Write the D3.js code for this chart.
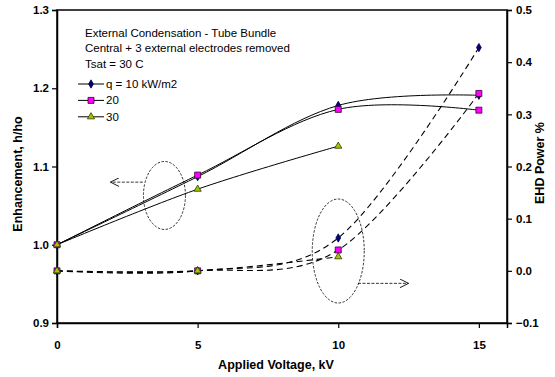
<!DOCTYPE html>
<html>
<head>
<meta charset="utf-8">
<script src="https://d3js.org/d3.v7.min.js"></script>
<style>
  body { margin: 0; background: #fff; }
  text { font-family: Arial, "Liberation Sans", sans-serif; }
</style>
</head>
<body>
<div id="chart"></div>
<script>
// applied voltage (kV)
var voltage = [0, 5, 10, 15];
// enhancement h/ho, left axis
var enh10 = [1.000, 1.087, 1.178, 1.191];
var enh20 = [1.000, 1.089, 1.173, 1.172];
var enh30 = [1.000, 1.071, 1.126];
// EHD power %, right axis
var ehd10 = [0.000, 0.000, 0.063, 0.428];
var ehd20 = [0.000, 0.000, 0.040, 0.340];
var ehd30 = [0.000, 0.000, 0.027];

var xTicks = [0, 5, 10, 15];
var leftTicks = [0.9, 1.0, 1.1, 1.2, 1.3];
var rightTicks = [-0.1, 0.0, 0.1, 0.2, 0.3, 0.4, 0.5];
var legendLabels = ["q = 10 kW/m2", "20", "30"];
var notes = ["External Condensation - Tube Bundle", "Central + 3 external electrodes removed", "Tsat = 30 C"];

var W = 555, H = 377;
var margin = {top: 10, right: 48, bottom: 54, left: 57};

var svg = d3.select("#chart").append("svg")
  .attr("width", W).attr("height", H);

var x = d3.scaleLinear().domain([0, 16]).range([margin.left, W - margin.right]);
var yL = d3.scaleLinear().domain([0.9, 1.3]).range([H - margin.bottom, margin.top]);
var yR = d3.scaleLinear().domain([-0.1, 0.5]).range([H - margin.bottom, margin.top]);

// frame
svg.append("rect")
  .attr("x", x(0)).attr("y", yL(1.3))
  .attr("width", x(16) - x(0)).attr("height", yL(0.9) - yL(1.3))
  .attr("fill", "none").attr("stroke", "#000").attr("stroke-width", 1.5);

function styleAxis(g) {
  g.select(".domain").attr("stroke-width", 1.5);
  g.selectAll(".tick line").attr("stroke-width", 1.2);
  g.selectAll("text").style("font-size", "11.5px").style("font-weight", "bold")
    .style("font-family", "Arial, 'Liberation Sans', sans-serif");
}

svg.append("g")
  .attr("transform", "translate(0," + yL(0.9) + ")")
  .call(d3.axisBottom(x).tickValues(xTicks).tickSize(5).tickPadding(13).tickFormat(d3.format("d")))
  .call(styleAxis);

svg.append("g")
  .attr("transform", "translate(" + x(0) + ",0)")
  .call(d3.axisLeft(yL).tickValues(leftTicks).tickSize(5).tickPadding(3).tickFormat(d3.format(".1f")))
  .call(styleAxis);

svg.append("g")
  .attr("transform", "translate(" + x(16) + ",0)")
  .call(d3.axisRight(yR).tickValues(rightTicks).tickSize(5).tickPadding(4).tickFormat(d3.format(".1f")))
  .call(styleAxis);

// axis titles
svg.append("text")
  .attr("x", 276).attr("y", 369)
  .attr("text-anchor", "middle")
  .style("font-size", "12.5px").style("font-weight", "bold")
  .text("Applied Voltage, kV");

svg.append("text")
  .attr("transform", "translate(22,174) rotate(-90)")
  .attr("text-anchor", "middle")
  .style("font-size", "12.5px").style("font-weight", "bold")
  .text("Enhancement, h/ho");

svg.append("text")
  .attr("transform", "translate(544,163) rotate(-90)")
  .attr("text-anchor", "middle")
  .style("font-size", "12.5px").style("font-weight", "bold")
  .text("EHD Power %");

// series
var curve = d3.curveCatmullRom.alpha(0);
function pts(vals) { return vals.map(function(v, i) { return [voltage[i], v]; }); }

function drawLine(vals, yScale, dashed) {
  var line = d3.line()
    .x(function(d) { return x(d[0]); })
    .y(function(d) { return yScale(d[1]); })
    .curve(curve);
  svg.append("path")
    .datum(pts(vals))
    .attr("d", line)
    .attr("fill", "none")
    .attr("stroke", "#000")
    .attr("stroke-width", dashed ? 1.1 : 1)
    .attr("stroke-dasharray", dashed ? "6,4" : null);
}

var symbols = [
  {type: d3.symbolDiamond, size: 20, fill: "#000080", stroke: "#000040"},
  {type: d3.symbolSquare, size: 36, fill: "#ff00ff", stroke: "#330033"},
  {type: d3.symbolTriangle, size: 22, fill: "#99cc00", stroke: "#333300"}
];

function drawMarkers(vals, yScale, s) {
  svg.append("g").selectAll("path")
    .data(pts(vals))
    .enter().append("path")
    .attr("transform", function(d) { return "translate(" + x(d[0]) + "," + yScale(d[1]) + ")"; })
    .attr("d", d3.symbol().type(s.type).size(s.size))
    .attr("fill", s.fill)
    .attr("stroke", s.stroke)
    .attr("stroke-width", 0.8);
}

var enhSeries = [enh10, enh20, enh30];
var ehdSeries = [ehd10, ehd20, ehd30];

enhSeries.forEach(function(v) { drawLine(v, yL, false); });
ehdSeries.forEach(function(v) { drawLine(v, yR, true); });
enhSeries.forEach(function(v, i) { drawMarkers(v, yL, symbols[i]); });
ehdSeries.forEach(function(v, i) { drawMarkers(v, yR, symbols[i]); });

// annotation ellipses and arrows
svg.append("defs").append("marker")
  .attr("id", "arrow").attr("viewBox", "0 0 10 10")
  .attr("refX", 10).attr("refY", 5)
  .attr("markerWidth", 9).attr("markerHeight", 9)
  .attr("markerUnits", "userSpaceOnUse")
  .attr("orient", "auto")
  .append("path").attr("d", "M0,0 L10,5 L0,10")
  .attr("fill", "none").attr("stroke", "#000").attr("stroke-width", 1);

function ellipse(cx, cy, rx, ry) {
  svg.append("ellipse")
    .attr("cx", cx).attr("cy", cy).attr("rx", rx).attr("ry", ry)
    .attr("fill", "none").attr("stroke", "#000")
    .attr("stroke-width", 0.8).attr("stroke-dasharray", "2.5,1.5");
}
function arrow(x1, y1, x2, y2) {
  svg.append("line")
    .attr("x1", x1).attr("y1", y1).attr("x2", x2).attr("y2", y2)
    .attr("stroke", "#000").attr("stroke-width", 0.8)
    .attr("stroke-dasharray", "3,1.5")
    .attr("marker-end", "url(#arrow)");
}

ellipse(x(3.82), yL(1.063), 21, 34);
arrow(x(3.05), yL(1.08), x(1.9), yL(1.08));
ellipse(x(10), yR(0.038), 26, 52);
arrow(x(10.7), yR(-0.024), x(12.5), yR(-0.024));

// notes
notes.forEach(function(t, i) {
  svg.append("text")
    .attr("x", 85).attr("y", 37 + i * 15.3)
    .style("font-size", "11.5px")
    .text(t);
});

// legend
legendLabels.forEach(function(t, i) {
  var ly = 84 + i * 16.4;
  svg.append("line")
    .attr("x1", 78).attr("x2", 104).attr("y1", ly).attr("y2", ly)
    .attr("stroke", "#000").attr("stroke-width", 1);
  svg.append("path")
    .attr("transform", "translate(91," + ly + ")")
    .attr("d", d3.symbol().type(symbols[i].type).size(symbols[i].size))
    .attr("fill", symbols[i].fill).attr("stroke", symbols[i].stroke).attr("stroke-width", 0.8);
  svg.append("text")
    .attr("x", 106).attr("y", ly + 4)
    .style("font-size", "11.5px")
    .text(t);
});
</script>
</body>
</html>
